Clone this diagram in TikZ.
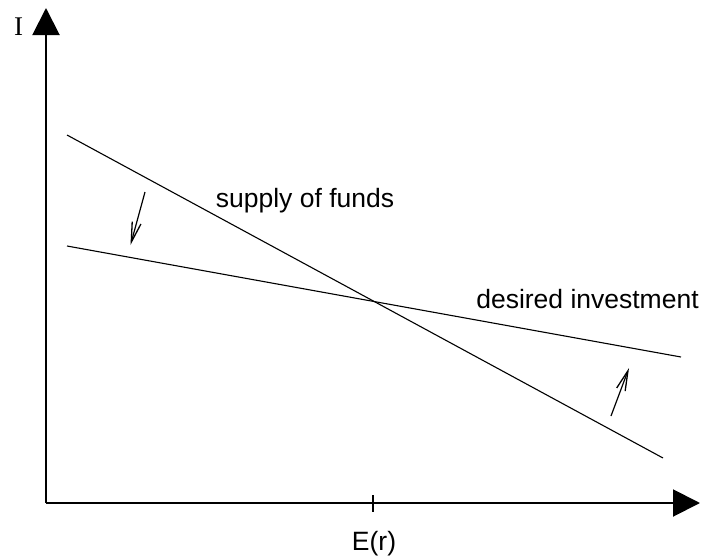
\documentclass[tikz,border=0pt]{standalone}
\usepackage{fontspec}
\setmainfont{Liberation Sans}
\newfontfamily\serifI{Liberation Serif}
\usetikzlibrary{arrows.meta}
\begin{document}
\begin{tikzpicture}[x=1pt,y=-1pt,
  axis/.style={line width=2pt,-{Triangle[length=27pt,width=27pt]}},
  curve/.style={line width=1.1pt},
  shift arrow/.style={line width=1.2pt,-{Straight Barb[length=20pt,width=9pt,line width=1.3pt]}},
  lbl/.style={font=\fontsize{26.5}{30}\selectfont,inner sep=0pt,anchor=base}]
\useasboundingbox (0,0) rectangle (716,560);
% axes
\coordinate (O) at (46,503);
\coordinate (ytop) at (46,8);
\coordinate (xend) at (700,503);
\draw[axis] (O) -- (ytop);
\draw[axis] (O) -- (xend);
% tick
\coordinate (tickT) at (373,495);
\coordinate (tickB) at (373,512);
\draw[line width=1.5pt] (tickT) -- (tickB);
% curves
\coordinate (s1) at (67,135);
\coordinate (s2) at (663,458);
\coordinate (d1) at (67,246);
\coordinate (d2) at (681,357);
\draw[curve] (s1) -- (s2);
\draw[curve] (d1) -- (d2);
% shift arrows
\coordinate (a1) at (145,192);
\coordinate (a2) at (130.5,245);
\coordinate (b1) at (611,416);
\coordinate (b2) at (629,368);
\draw[shift arrow] (a1) -- (a2);
\draw[shift arrow] (b1) -- (b2);
% labels
\node[lbl] (supply) at (305,207) {supply of funds};
\node[lbl] (desired) at (587.5,308) {desired investment};
\node[lbl] (er) at (374,550) {E(r)};
\node[inner sep=0pt,anchor=base,font=\serifI\fontsize{27}{30}\selectfont] (ilab) at (18.5,35) {I};
\end{tikzpicture}
\end{document}
